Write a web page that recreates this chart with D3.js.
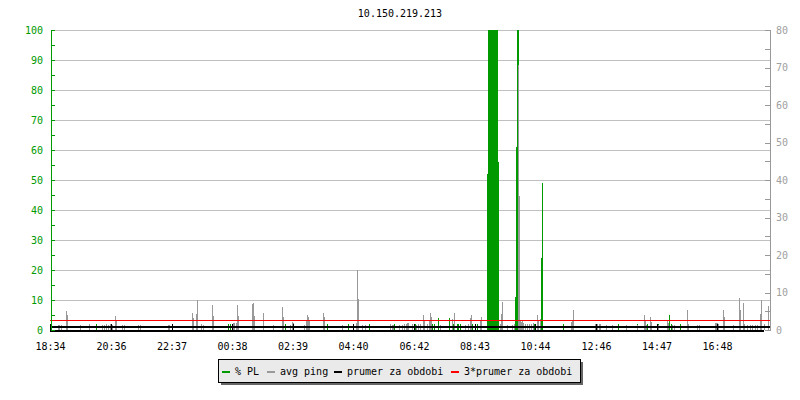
<!DOCTYPE html>
<html>
<head>
<meta charset="utf-8">
<script src="https://cdn.jsdelivr.net/npm/d3@7"></script>
<style>
  html, body { margin: 0; padding: 0; background: #ffffff; }
  svg { display: block; }
  text { font-family: "DejaVu Sans Mono", monospace; font-size: 10px; }
</style>
</head>
<body>
<svg id="chart" width="800" height="400"></svg>
<script>
// ---------- data ----------
const title = "10.150.219.213";
const startClock = "18:34";          // first sample time
const sampleMinutes = 2;             // one sample every 2 minutes
const totalSamples = 720;            // 24 hours

// x tick labels
const xTickLabels = ["18:34","20:36","22:37","00:38","02:39","04:40","06:42","08:43","10:44","12:46","14:47","16:48"];
// left axis (% PL) and right axis (avg ping, ms) tick labels
const plTicks = [0,10,20,30,40,50,60,70,80,90,100];
const pingTicks = [0,10,20,30,40,50,60,70,80];

// avg ping: sample index -> ms
const pingSample = [1,8,9,11,16,17,30,39,52,54,56,58,60,62,65,66,72,74,88,90,118,119,142,143,146,147,151,153,162,163,183,184,186,187,188,202,203,204,213,223,232,233,240,242,243,254,256,257,258,259,273,274,292,306,307,308,312,315,340,342,343,349,352,354,356,357,358,362,366,368,370,373,374,377,379,380,381,390,402,404,415,418,420,421,430,431,450,451,452,457,462,464,468,469,470,471,472,473,475,477,479,481,483,487,488,490,521,522,523,545,547,549,550,556,562,576,587,594,595,596,600,601,608,617,618,622,624,637,638,647,649,665,666,667,668,673,674,683,689,690,693,694,697,700,702,705,707,710,711,714,718];
const pingValue  = [8,1.3,1.3,1.3,5.1,4,1.3,1.6,1.4,1.3,1.5,1.4,1.5,1.3,3.7,2.5,1.3,1.3,1.3,1.4,1.4,1.4,4.6,3.2,4.2,8,1.5,1.3,6.7,3.7,1.8,1.8,1.9,6.7,3.7,6.9,7.1,3.8,4.5,1.3,6.1,3.4,1.3,2.2,2,1.3,2.7,4,3.4,2.7,4.6,3.4,1.3,2,16,8.4,1.3,1.3,1.6,1.4,1.4,1.3,1.3,1.6,1.5,1.8,2,1.5,1.3,1.5,1.6,4,2.8,1.5,2.7,4.5,3.4,1.4,3,4.5,1.3,1.5,3.3,4,2.5,3.5,1.5,4.3,7.6,1.4,1.4,1.5,70.7,35.7,2.7,2.2,2.7,1.8,1.6,1.6,1.5,1.6,1.8,4,2.6,3,2.2,2.7,5.4,1.5,1.6,1.5,1.5,1.3,1.3,1.3,1.3,4,2.6,1.4,3.4,2.2,1.3,2.3,1.8,1.3,1.3,5.3,1.5,1.4,1.3,1.8,2,1.8,1.5,5.3,3.5,1.3,8.6,5.3,7.1,1.5,1.3,1.4,1.3,1.3,1.4,4.2,8,1.5,6.5];

// % packet loss: sample index -> %
const plSample = [46,178,180,232,233,235,277,298,307,319,344,365,380,382,384,388,399,402,403,407,408,410,420,422,427,430,437,438,439,440,441,442,443,444,445,446,447,448,465,466,467,468,484,485,487,491,492,513,523,568,587,597,608,619,621,630];
const plValue  = [2,2,2,2,2,2,2,2,2,2,2,2,2,2,2,4,4,2,2,2,2,2,2,2,2,2,52,100,100,100,100,100,100,100,100,100,100,56,11,61,100,100,2,2,2,24,49,2,2,2,2,2,2,5,2,2];

// period average of avg ping (ms, right axis)
const prumer = 0.93;

// legend entries
const legendLabels = ["% PL","avg ping","prumer za obdobi","3*prumer za obdobi"];
const colors = { pl: "#009900", ping: "#999999", mean: "#000000", mean3: "#ff0000" };

// ---------- layout ----------
const L = 51, R = 770, T = 30, B = 330;
const svg = d3.select("#chart");

const [sh, sm] = startClock.split(":").map(Number);
const start = new Date(2000, 0, 1, sh, sm);
const timeOf = i => new Date(start.getTime() + i * sampleMinutes * 60000);
const end = timeOf(totalSamples);

const x = d3.scaleTime().domain([start, end]).range([50, R]);
const yPL = d3.scaleLinear().domain([0, 100]).range([B, T]);
const yPing = d3.scaleLinear().domain([0, 80]).range([B, T]);

// title
svg.append("text").attr("x", 400).attr("y", 17).attr("text-anchor", "middle")
  .attr("fill", "#000").text(title);

// grid lines
svg.append("g").selectAll("line").data(plTicks.filter(v => v > 0)).join("line")
  .attr("x1", L).attr("x2", R)
  .attr("y1", d => Math.round(yPL(d)) + 0.5).attr("y2", d => Math.round(yPL(d)) + 0.5)
  .attr("stroke", "#c0c0c0").attr("stroke-width", 1);

// bars
const barW = d => Math.max(1, x(timeOf(d + 1)) - x(timeOf(d)));
const plData = plSample.map((s, i) => ({ s, v: plValue[i] }));
const pingData = pingSample.map((s, i) => ({ s, v: pingValue[i] }));

svg.append("g").attr("shape-rendering", "crispEdges").selectAll("rect").data(plData).join("rect")
  .attr("x", d => x(timeOf(d.s))).attr("width", d => barW(d.s))
  .attr("y", d => yPL(d.v)).attr("height", d => B - yPL(d.v))
  .attr("fill", colors.pl);

svg.append("g").attr("shape-rendering", "crispEdges").selectAll("rect").data(pingData).join("rect")
  .attr("x", d => x(timeOf(d.s))).attr("width", d => barW(d.s))
  .attr("y", d => yPing(d.v)).attr("height", d => B - yPing(d.v))
  .attr("fill", colors.ping);

// mean lines
const yMean = Math.round(yPing(prumer));
svg.append("line").attr("x1", 50).attr("x2", R)
  .attr("y1", yMean).attr("y2", yMean)
  .attr("stroke", colors.mean).attr("stroke-width", 2);
svg.append("line").attr("x1", 50).attr("x2", R)
  .attr("y1", Math.round(yPing(3 * prumer)) + 0.5).attr("y2", Math.round(yPing(3 * prumer)) + 0.5)
  .attr("stroke", colors.mean3).attr("stroke-width", 1);

// bottom axis
svg.append("line").attr("x1", 50).attr("x2", 764).attr("y1", B + 1).attr("y2", B + 1)
  .attr("stroke", "#000").attr("stroke-width", 2);
const parseTick = s => {
  const [h, m] = s.split(":").map(Number);
  let d = new Date(2000, 0, 1, h, m);
  if (d < start) d = new Date(2000, 0, 2, h, m);
  return d;
};
const xTicks = xTickLabels.map(parseTick);
const xAxis = d3.axisBottom(x).tickValues(xTicks).tickFormat(d3.timeFormat("%H:%M"))
  .tickSizeInner(-6).tickSizeOuter(0).tickPadding(13);
const gx = svg.append("g").attr("transform", `translate(0,${B})`).call(xAxis);
gx.select(".domain").remove();
gx.selectAll(".tick line").attr("stroke", "#000").attr("shape-rendering", "crispEdges");
gx.selectAll(".tick text").attr("fill", "#000")
  .style("font-family", "DejaVu Sans Mono, monospace").style("font-size", "10px");

// left axis (green)
svg.append("line").attr("x1", L + 0.5).attr("x2", L + 0.5).attr("y1", T).attr("y2", B + 1)
  .attr("stroke", colors.pl).attr("stroke-width", 1);
const plMinor = plTicks.slice(0, -1).map(v => v + 5);
svg.append("g").selectAll("line").data(plTicks.concat(plMinor)).join("line")
  .attr("x1", L).attr("x2", L + 4)
  .attr("y1", d => Math.round(yPL(d)) + 0.5).attr("y2", d => Math.round(yPL(d)) + 0.5)
  .attr("stroke", colors.pl);
const yAxisL = d3.axisLeft(yPL).tickValues(plTicks).tickFormat(d3.format("d")).tickSize(0).tickPadding(8);
const gl = svg.append("g").attr("transform", `translate(${L},0)`).call(yAxisL);
gl.select(".domain").remove();
gl.selectAll(".tick text").attr("fill", colors.pl)
  .style("font-family", "DejaVu Sans Mono, monospace").style("font-size", "10px");

// right axis (grey)
svg.append("line").attr("x1", R + 0.5).attr("x2", R + 0.5).attr("y1", T).attr("y2", B + 1)
  .attr("stroke", "#999999").attr("stroke-width", 1);
const pingMinor = pingTicks.slice(0, -1).map(v => v + 5);
svg.append("g").selectAll("line").data(pingTicks.concat(pingMinor)).join("line")
  .attr("x1", R - 5).attr("x2", R)
  .attr("y1", d => Math.round(yPing(d)) + 0.5).attr("y2", d => Math.round(yPing(d)) + 0.5)
  .attr("stroke", "#999999");
const yAxisR = d3.axisRight(yPing).tickValues(pingTicks).tickFormat(d3.format("d")).tickSize(0).tickPadding(6);
const gr = svg.append("g").attr("transform", `translate(${R},0)`).call(yAxisR);
gr.select(".domain").remove();
gr.selectAll(".tick text").attr("fill", "#a0a0a0")
  .style("font-family", "DejaVu Sans Mono, monospace").style("font-size", "10px");

// legend
const lg = svg.append("g");
lg.append("rect").attr("x", 221).attr("y", 362).attr("width", 362).attr("height", 23).attr("fill", "#666666");
lg.append("rect").attr("x", 218.5).attr("y", 359.5).attr("width", 362).attr("height", 23)
  .attr("fill", "#eaeaea").attr("stroke", "#000").attr("stroke-width", 1);
const swatchX = [222, 267, 334, 451];
const swatchC = [colors.pl, colors.ping, colors.mean, colors.mean3];
legendLabels.forEach((lab, i) => {
  lg.append("line").attr("x1", swatchX[i]).attr("x2", swatchX[i] + 8)
    .attr("y1", 372).attr("y2", 372).attr("stroke", swatchC[i]).attr("stroke-width", 2);
  lg.append("text").attr("x", swatchX[i] + 13).attr("y", 375).attr("fill", "#000").text(lab);
});
</script>
</body>
</html>
